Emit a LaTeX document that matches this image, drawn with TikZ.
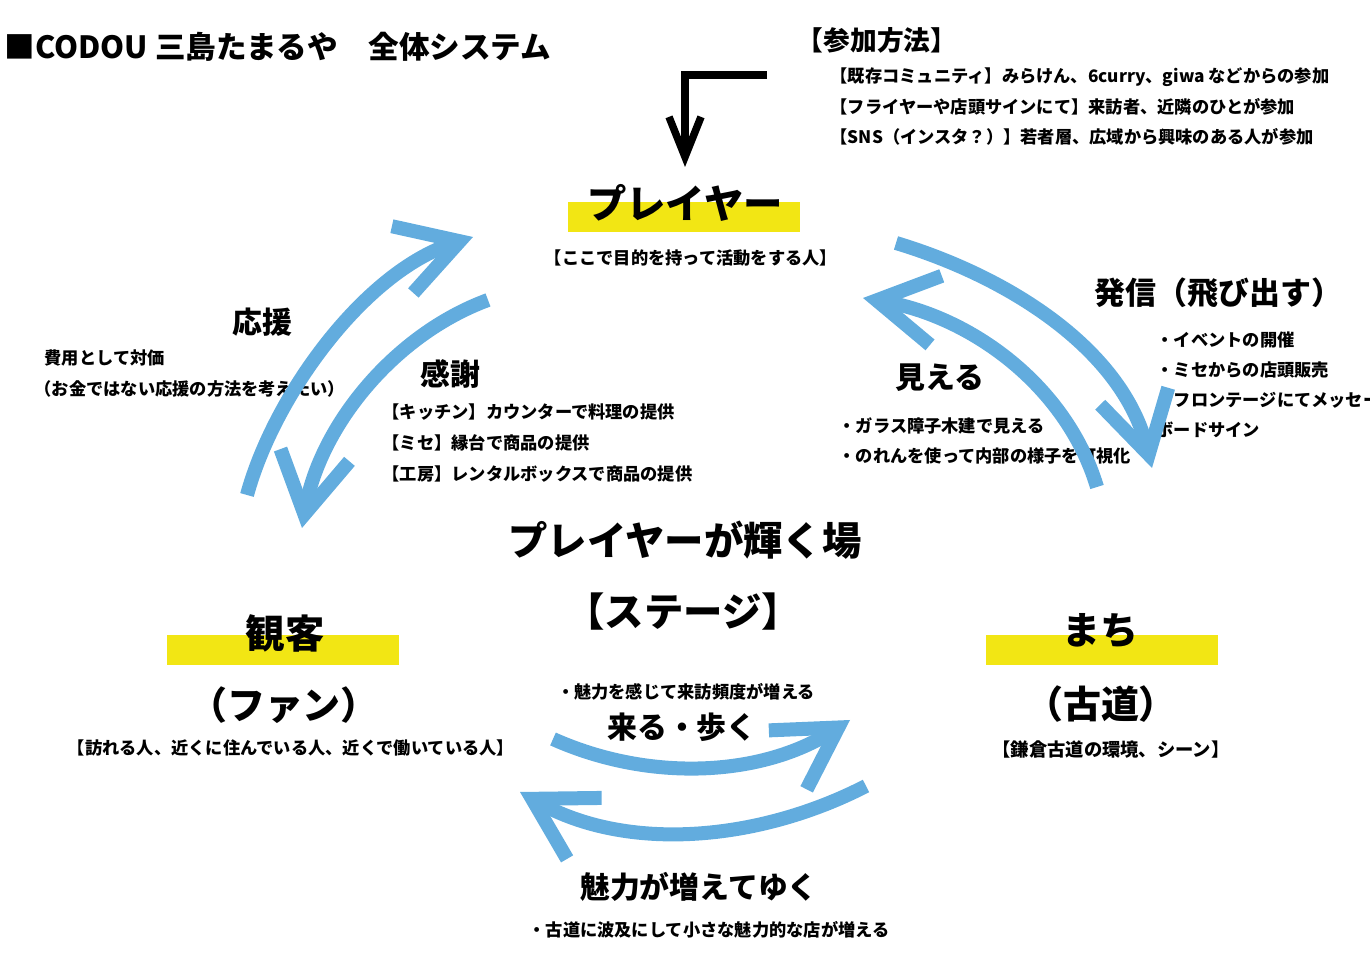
\documentclass[tikz,border=0pt]{standalone}
\usepackage{fontspec}
\setmainfont{Noto Sans CJK JP}
\usepackage{xcolor}
\usetikzlibrary{arrows.meta}
\definecolor{flowblue}{RGB}{98,172,222}
\definecolor{baryellow}{RGB}{242,230,20}
\tikzset{%
	headtext/.style  = {font=\fontsize{8.7pt}{10pt}\selectfont\bfseries, inner sep=0pt},
	roletext/.style  = {font=\fontsize{11.2pt}{12pt}\selectfont\bfseries, inner sep=0pt},
	subtext/.style   = {font=\fontsize{10.8pt}{12pt}\selectfont\bfseries, inner sep=0pt},
	acttext/.style   = {font=\fontsize{8.5pt}{9pt}\selectfont\bfseries, inner sep=0pt},
	notetext/.style  = {font=\fontsize{4.9pt}{5pt}\selectfont\bfseries, inner sep=0pt},
	rolebar/.style   = {fill=baryellow, minimum width=2.32cm, minimum height=0.30cm, inner sep=0pt},
	flow/.style      = {flowblue, line width=0.14cm, -{Straight Barb[length=0.6cm,width=0.7cm]}},
	entry/.style     = {black, line width=0.075cm, -{Straight Barb[length=0.4cm,width=0.32cm]}},
}
\begin{document}
\begin{tikzpicture}[x=0.01cm,y=-0.01cm]
	\useasboundingbox (0,0) rectangle (1370,971);
	\node[headtext,anchor=west] (title) at (4,47) {■CODOU 三島たまるや　全体システム};
	\node[headtext,font=\fontsize{7.6pt}{8pt}\selectfont\bfseries] (join) at (877,40) {【参加方法】};
	\node[notetext,anchor=west] (join1) at (830,77) {【既存コミュニティ】みらけん、6curry、giwa などからの参加};
	\node[notetext,anchor=west] (join2) at (830,107) {【フライヤーや店頭サインにて】来訪者、近隣のひとが参加};
	\node[notetext,anchor=west] (join3) at (830,137) {【SNS（インスタ？）】若者層、広域から興味のある人が参加};
	\node[rolebar] (playerbar) at (684,217) {};
	\node[roletext] (player) at (685,203) {プレイヤー};
	\node[notetext] (playernote) at (691,258) {【ここで目的を持って活動をする人】};
	\node[rolebar] (fanbar) at (283,650) {};
	\node[roletext] (fan) at (285,633) {観客};
	\node[subtext] (fansub) at (284,705) {（ファン）};
	\node[notetext] (fannote) at (291,748) {【訪れる人、近くに住んでいる人、近くで働いている人】};
	\node[rolebar] (townbar) at (1102,650) {};
	\node[subtext] (town) at (1100,631) {まち};
	\node[subtext] (townsub) at (1101,704) {（古道）};
	\node[notetext,font=\fontsize{5.2pt}{6pt}\selectfont\bfseries] (townnote) at (1111,750) {【鎌倉古道の環境、シーン】};
	\node[roletext] (stage) at (685,540) {プレイヤーが輝く場};
	\node[roletext] (stagesub) at (683,612) {【ステージ】};
	\node[acttext] (cheer) at (262,322) {応援};
	\node[notetext,anchor=west] (cheer1) at (44,358) {費用として対価};
	\node[notetext,anchor=west] (cheer2) at (34,389) {（お金ではない応援の方法を考えたい）};
	\node[acttext] (thanks) at (450,374) {感謝};
	\node[notetext,anchor=west] (thanks1) at (382,412) {【キッチン】カウンターで料理の提供};
	\node[notetext,anchor=west] (thanks2) at (382,443) {【ミセ】縁台で商品の提供};
	\node[notetext,anchor=west] (thanks3) at (382,474) {【工房】レンタルボックスで商品の提供};
	\node[acttext] (seen) at (940,378) {見える};
	\node[notetext,anchor=west] (seen1) at (838,426) {・ガラス障子木建で見える};
	\node[notetext,anchor=west] (seen2) at (838,456) {・のれんを使って内部の様子を可視化};
	\node[acttext,font=\fontsize{8.8pt}{9pt}\selectfont\bfseries,anchor=west] (send) at (1094,293) {発信（飛び出す）};
	\node[notetext,anchor=west] (send1) at (1156,340) {・イベントの開催};
	\node[notetext,anchor=west] (send2) at (1156,370) {・ミセからの店頭販売};
	\node[notetext,anchor=west] (send3) at (1156,400) {・フロンテージにてメッセー};
	\node[notetext,anchor=west] (send4) at (1156,430) {ボードサイン};
	\node[notetext] (visit1) at (686,692) {・魅力を感じて来訪頻度が増える};
	\node[acttext] (visit) at (682,727) {来る・歩く};
	\node[acttext] (grow) at (699,887) {魅力が増えてゆく};
	\node[notetext] (grow1) at (709,930) {・古道に波及にして小さな魅力的な店が増える};
	\coordinate (entrystart) at (767,75);
	\coordinate (entryend) at (685,167);
	\draw[entry] (entrystart) -| (entryend);
	\coordinate (cheerA) at (247,495);
	\coordinate (cheerB) at (473,237);
	\coordinate (thanksA) at (488,300);
	\coordinate (thanksB) at (302,528);
	\coordinate (sendA) at (896,243);
	\coordinate (sendB) at (1152,468);
	\coordinate (seenA) at (1097,487);
	\coordinate (seenB) at (863,298);
	\coordinate (visitA) at (553,739);
	\coordinate (visitB) at (850,720);
	\coordinate (growA) at (866,786);
	\coordinate (growB) at (520,792);
	\draw[flow] (cheerA) .. controls (274,396) and (364,272) .. (cheerB);
	\draw[flow] (thanksA) .. controls (393,335) and (320,427) .. (thanksB);
	\draw[flow] (sendA) .. controls (1012,278) and (1123,351) .. (sendB);
	\draw[flow] (seenA) .. controls (1066,384) and (969,316) .. (seenB);
	\draw[flow] (visitA) .. controls (649,782) and (761,777) .. (visitB);
	\draw[flow] (growA) .. controls (757,842) and (626,852) .. (growB);
\end{tikzpicture}
\end{document}
